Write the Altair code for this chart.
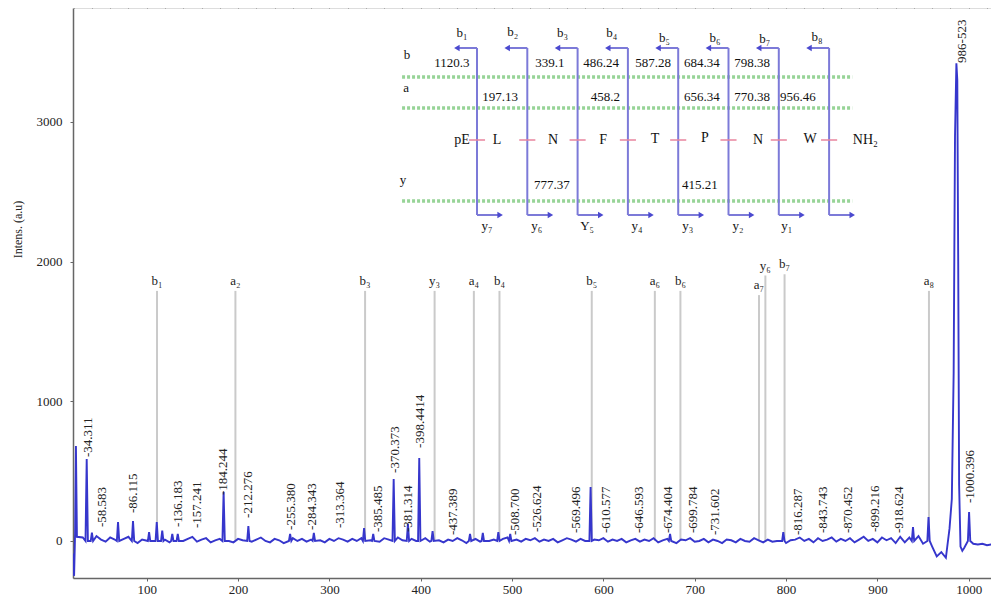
import altair as alt
import pandas as pd

SERIF = "Liberation Serif"
BLUE = "#3636cc"

# ---------------- spectrum: baseline (every 5 m/z from 25) ----------------
BASE_START, BASE_STEP = 25, 5
base_noise = [
    10, 25, -5, 20, 35, 10, -5, 25, 10, -10, 15, 30, 5, -15, 10, 20, -5, 15, 30, 10,
    -10, 5, 20, 0, 15, 30, -5, 10, 20, -10, 5, 15, 25, 0, -10, 15, 5, 20, -5, 10,
    25, 0, -10, 15, 5, -15, 10, 20, 0, 15, -5, 10, 25, 5, -10, 15, 0, 20, 10, -5,
    15, 0, 20, -10, 5, 15, -5, 20, 10, 0, 25, 5, -10, 15, 0, 10, 20, -5, 15, 5,
    -10, 10, 0, 20, 5, -15, 10, 15, -5, 20, 0, 10, -10, 15, 25, 0, 10, -5, 15, 5,
    20, -5, 10, 0, 15, -10, 5, 20, 10, -5, 15, 0, -10, 10, 5, 20, -5, 10, 0, 15,
    -10, 5, 15, -5, 10, 0, 20, -10, 5, 15, 0, -15, 10, 5, 20, -5, 0, 15, -10, 10,
    0, -15, 10, 5, -10, 15, 0, -5, 20, 5, -10, 10, -5, 0, 15, -15, 5, 10, 25, 0,
    15, -10, 20, 0, 10, 25, -5, 15, 0, 20, -10, 10, 30, 0, 15, -10, 25, 5, 20, -15,
    30, -10, 25, 5, 35, -20, 20, -40, -110, -80, -120, 60, 0, 0, -50, 0, -20, -25, -20, -30,
    -25, -30,
]

# narrow peaks (apex m/z, apex intensity)
peak_mz = [34.3, 40.0, 68.6, 85.0, 102.6, 111.0, 117.0, 128.0, 134.0, 184.2, 211.3,
           257.0, 283.0, 338.0, 348.0, 370.4, 386.0, 398.4, 413.0, 454.0, 468.0,
           485.0, 498.0, 586.0, 673.0, 797.0, 939.0, 956.0, 1000.4]
peak_h = [587, 60, 136, 143, 64, 136, 75, 50, 50, 350, 107,
          50, 57, 93, 50, 444, 122, 594, 70, 50, 57,
          64, 50, 387, 50, 64, 100, 172, 208]

# left edge artefact and the main precursor peak, point by point
edge_mz = [19.5, 20.5, 21.6, 22.5, 23.6]
edge_h = [-90, -250, 60, 680, 30]
big_mz = [979.0, 981.5, 983.5, 985.0, 986.5, 987.5, 988.5, 989.5, 991.0, 993.0]
big_h = [90, 300, 1200, 2900, 3420, 3300, 2000, 400, -40, -70]

# ---------------- peak annotations ----------------
lab_text = ["-34.311", "-58.583", "-86.115", "-136.183", "-157.241", "-184.244",
            "-212.276", "-255.380", "-284.343", "-313.364", "-385.485", "-370.373",
            "-381.314", "-398.4414", "-437.389", "-508.700", "-526.624", "-569.496",
            "-610.577", "-646.593", "-674.404", "-699.784", "-731.602", "-816.287",
            "-843.743", "-870.452", "-899.216", "-918.624", "-1000.396", "986-523"]
lab_mz = [35.5, 51, 85, 134.2, 155, 183.5, 210.9, 258, 281, 311.6, 353.2, 371.8,
          386, 399.2, 435.3, 503.2, 527.3, 570, 602.9, 639, 670.7, 698.1, 722.2,
          813.1, 840.5, 867.8, 897.4, 923.7, 1001.4, 992.6]
lab_base = [601, 100, 200, 100, 93, 329, 165, 79, 79, 93, 64, 487, 64, 666, 43, 43,
            64, 57, 57, 57, 57, 57, 43, 43, 57, 57, 64, 57, 272, 3422]

# ---------------- fragment ion markers ----------------
ion_lab = ["b₁", "a₂", "b₃", "y₃", "a₄", "b₄", "b₅", "a₆", "b₆", "a₇", "y₆", "b₇", "a₈"]
ion_mz = [111.3, 197.13, 339.1, 415.21, 458.2, 486.24, 587.28, 656.34, 684.34,
          770.38, 777.37, 798.38, 956.46]
ion_top = [1790, 1790, 1790, 1790, 1790, 1790, 1790, 1790, 1790, 1760, 1900, 1910, 1790]

# ---------------- axis ticks ----------------
x_label_vals = list(range(100, 1001, 100))
x_minor_vals = list(range(20, 1021, 20))
y_label_vals = [0, 1000, 2000, 3000]
y_minor_vals = list(range(-200, 3801, 200))

# ---------------- fragmentation scheme (inset) ----------------
cleave_i = [1, 2, 3, 4, 5, 6, 7, 8]
bracket_top, bracket_bot = 3.8, 20.5
arrow_left, arrow_right = 0.4, 0.46
b_ion_lab = ["b₁", "b₂", "b₃", "b₄", "b₅", "b₆", "b₇", "b₈"]
b_ion_i = [0.70, 1.71, 2.70, 3.68, 4.73, 5.73, 6.72, 7.76]
b_ion_L = [2.3, 2.2, 2.3, 2.3, 2.8, 2.8, 2.9, 2.7]
y_ion_lab = ["y₇", "y₆", "Y₅", "y₄", "y₃", "y₂", "y₁"]
y_ion_i = [1.20, 2.19, 3.19, 4.18, 5.19, 6.19, 7.16]
y_ion_L = 21.6
residues = ["pE", "L", "N", "F", "T", "P", "N", "W", "NH₂"]
res_i = [0.70, 1.40, 2.51, 3.51, 4.54, 5.53, 6.59, 7.62, 8.72]
res_L = [13.0, 13.0, 13.0, 13.0, 12.9, 12.8, 13.0, 12.9, 13.0]
row_lab = ["b", "a", "y"]
row_i = [-0.39, -0.41, -0.47]
row_L = [4.5, 7.8, 17.0]
green_L = [6.7, 9.8, 19.1]
green_from, green_to = -0.49, 8.46
num_txt = ["1120.3", "339.1", "486.24", "587.28", "684.34", "798.38",
           "197.13", "458.2", "656.34", "770.38", "956.46",
           "777.37", "415.21"]
num_i = [0.50, 2.45, 3.47, 4.50, 5.47, 6.47, 1.46, 3.55, 5.47, 6.47, 7.38, 2.49, 5.43]
num_L = [5.3] * 6 + [8.7] * 5 + [17.5] * 2
pink_half = 0.16

# ================= build tables =================
pts = []
for m, h in zip(peak_mz, peak_h):
    pts += [(m - 1.3, 0), (m, h), (m + 1.3, 0)]
pts += list(zip(edge_mz, edge_h)) + list(zip(big_mz, big_h))
special = [p[0] for p in pts]
for k, v in enumerate(base_noise):
    m = BASE_START + BASE_STEP * k
    if all(abs(m - s) > 1.6 for s in special):
        pts.append((m, v))
pts.sort()
spec_df = pd.DataFrame(pts, columns=["mz", "inten"])

lab_df = pd.DataFrame({"t": lab_text, "mz": lab_mz, "y": lab_base})
ion_df = pd.DataFrame({"t": ion_lab, "mz": ion_mz, "top": ion_top, "zero": 0})

X_DOMAIN = [19.3, 1024.4]
Y_DOMAIN = [-265, 3815]
W, H = 918, 570


def xscale():
    return alt.Scale(domain=X_DOMAIN, nice=False, zero=False)


def yscale():
    return alt.Scale(domain=Y_DOMAIN, nice=False, zero=False)


xs, ys = xscale(), yscale()
AX = dict(grid=False, labelFont=SERIF, labelFontSize=13, labelColor="#222",
          domainColor="#666", domainWidth=1.5, tickColor="#666",
          labelOverlap=False)

x_axis = alt.Axis(values=x_label_vals, format="d", title=None, tickSize=3,
                  labelPadding=2, **AX)
y_axis = alt.Axis(values=y_label_vals, format="d",
                  title="Intens. (a.u)", titleFont=SERIF, titleFontSize=12,
                  titleFontWeight="normal", titleColor="#222",
                  titleX=-56, titleY=221, titleAngle=270,
                  titleAlign="center", titleBaseline="middle",
                  tickSize=3, labelPadding=8, **AX)
x_minor = alt.Axis(values=x_minor_vals, labels=False, title=None, tickSize=3,
                   domain=False, grid=False, tickColor="#777", offset=0)
y_minor = alt.Axis(values=y_minor_vals, labels=False, title=None, tickSize=3,
                   domain=False, grid=False, tickColor="#777", offset=0)

ion_rules = alt.Chart(ion_df).mark_rule(color="#cacaca", strokeWidth=2).encode(
    x=alt.X("mz:Q", scale=xs, axis=x_axis),
    y=alt.Y("zero:Q", scale=ys, axis=y_axis),
    y2="top:Q",
)
spectrum = alt.Chart(spec_df).mark_line(color=BLUE, strokeWidth=1.9, clip=True,
                                        interpolate="linear").encode(
    x=alt.X("mz:Q", scale=xs, axis=x_axis),
    y=alt.Y("inten:Q", scale=ys, axis=y_axis),
    order="mz:Q",
)
ion_text = alt.Chart(ion_df).mark_text(font=SERIF, fontSize=13, color="#222",
                                       dy=-10, baseline="middle").encode(
    x=alt.X("mz:Q", scale=xs, axis=x_axis),
    y=alt.Y("top:Q", scale=ys, axis=y_axis),
    text="t:N",
)
peak_text = alt.Chart(lab_df).mark_text(font=SERIF, fontSize=13, color="#222",
                                        angle=270, align="left",
                                        baseline="middle").encode(
    x=alt.X("mz:Q", scale=xs, axis=x_axis),
    y=alt.Y("y:Q", scale=ys, axis=y_axis),
    text="t:N",
)
main = alt.layer(ion_rules, spectrum, ion_text, peak_text)

# minor-tick layer: same domains, invisible marks, tick-only axes
minor = alt.Chart(ion_df).mark_rule(opacity=0).encode(
    x=alt.X("mz:Q", scale=xscale(), axis=x_minor),
    y=alt.Y("zero:Q", scale=yscale(), axis=y_minor),
)

# ---------------- inset ----------------
ixs = alt.Scale(domain=[0, 10], range=[353.7, 856.7], nice=False, zero=False)
iys = alt.Scale(domain=[0, 23], range=[2, 232], nice=False, zero=False)

green_df = pd.DataFrame({"L": green_L, "a": green_from, "b": green_to})
vert_df = pd.DataFrame({"i": cleave_i, "t": bracket_top, "b": bracket_bot,
                        "il": [c - arrow_left for c in cleave_i],
                        "ir": [c + arrow_right for c in cleave_i],
                        "pl": [c - pink_half for c in cleave_i],
                        "pr": [c + pink_half for c in cleave_i],
                        "res": 13.0})
bion_df = pd.DataFrame({"t": b_ion_lab, "i": b_ion_i, "L": b_ion_L})
yion_df = pd.DataFrame({"t": y_ion_lab, "i": y_ion_i, "L": y_ion_L})
res_df = pd.DataFrame({"t": residues, "i": res_i, "L": res_L})
row_df = pd.DataFrame({"t": row_lab, "i": row_i, "L": row_L})
num_df = pd.DataFrame({"t": num_txt, "i": num_i, "L": num_L})

IX = lambda f: alt.X(f, scale=ixs, axis=None)
IY = lambda f: alt.Y(f, scale=iys, axis=None)

green = alt.Chart(green_df).mark_rule(color="#8ccf8c", strokeWidth=3.5,
                                      strokeDash=[3, 2], opacity=0.9).encode(
    x=IX("a:Q"), x2="b:Q", y=IY("L:Q"))
verts = alt.Chart(vert_df).mark_rule(color="#7c7ad8", strokeWidth=2).encode(
    x=IX("i:Q"), y=IY("t:Q"), y2="b:Q")
tops = alt.Chart(vert_df).mark_rule(color="#7c7ad8", strokeWidth=2).encode(
    x=IX("il:Q"), x2="i:Q", y=IY("t:Q"))
bots = alt.Chart(vert_df).mark_rule(color="#7c7ad8", strokeWidth=2).encode(
    x=IX("i:Q"), x2="ir:Q", y=IY("b:Q"))
arr_l = alt.Chart(vert_df).mark_point(shape="triangle-left", filled=True,
                                      color="#4b49cf", size=40, opacity=1).encode(
    x=IX("il:Q"), y=IY("t:Q"))
arr_r = alt.Chart(vert_df).mark_point(shape="triangle-right", filled=True,
                                      color="#4b49cf", size=40, opacity=1).encode(
    x=IX("ir:Q"), y=IY("b:Q"))
pink = alt.Chart(vert_df).mark_rule(color="#e8849e", strokeWidth=1.5).encode(
    x=IX("pl:Q"), x2="pr:Q", y=IY("res:Q"))


def itext(df, size):
    return alt.Chart(df).mark_text(font=SERIF, fontSize=size, color="#111",
                                   baseline="middle").encode(
        x=IX("i:Q"), y=IY("L:Q"), text="t:N")


inset = alt.layer(green, verts, tops, bots, arr_l, arr_r, pink,
                  itext(bion_df, 13), itext(yion_df, 13), itext(res_df, 14),
                  itext(row_df, 13), itext(num_df, 13))

chart = alt.layer(main, minor, inset).resolve_scale(
    x="independent", y="independent"
).properties(
    width=W, height=H,
    autosize=alt.AutoSizeParams(type="none"),
    padding={"left": 65, "top": 0, "right": 0, "bottom": 18},
).configure_view(stroke=None).configure(background="white")

chart.save("out.html", embed_options={"renderer": "svg", "actions": False})
